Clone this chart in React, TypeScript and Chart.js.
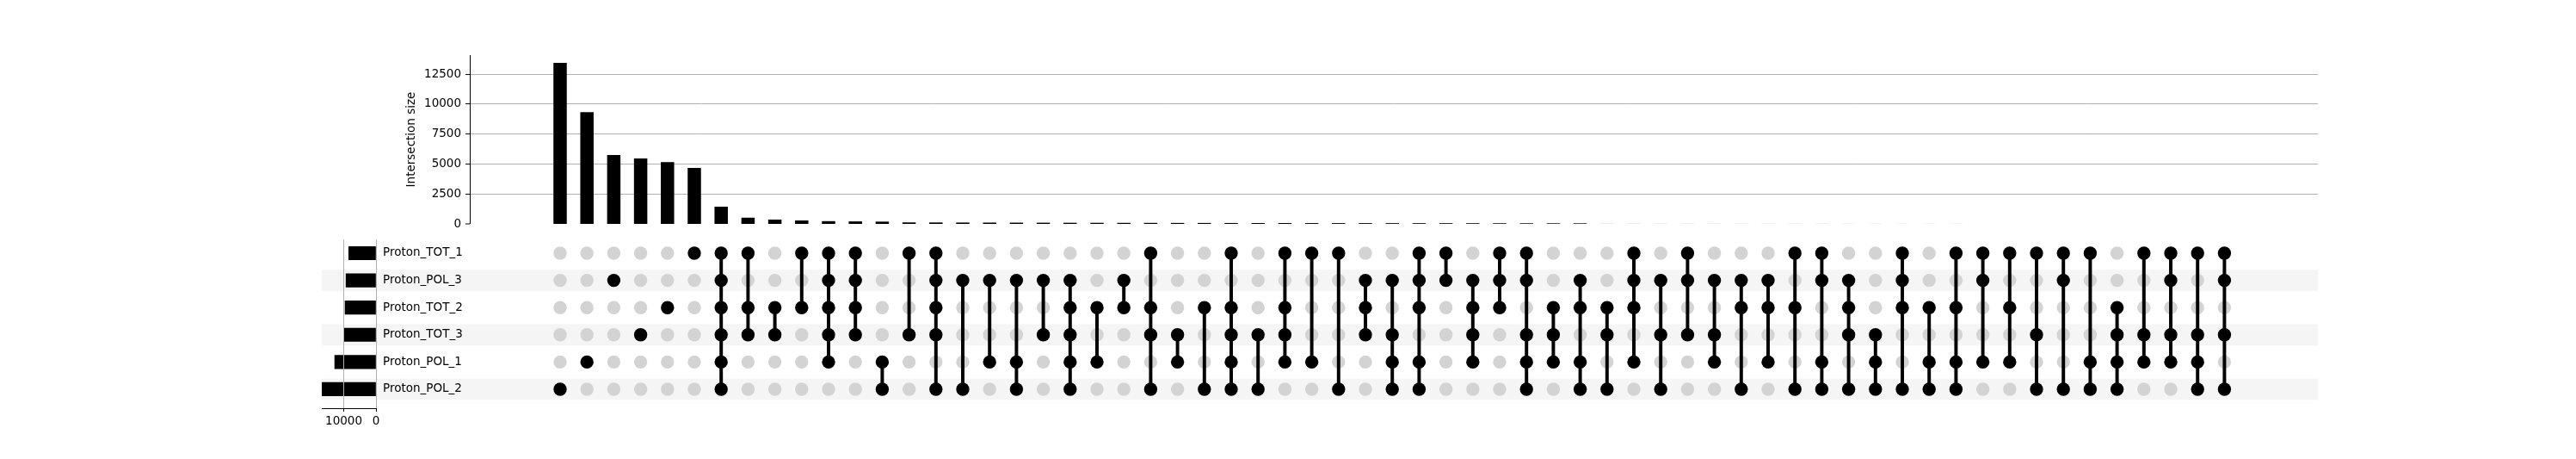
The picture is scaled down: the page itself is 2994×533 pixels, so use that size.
import React, { useEffect, useRef } from 'react';
import { Chart, registerables } from 'chart.js';

Chart.register(...registerables);

// ---------------- data ----------------
const setNames = ['Proton_TOT_1', 'Proton_POL_3', 'Proton_TOT_2', 'Proton_TOT_3', 'Proton_POL_1', 'Proton_POL_2'];
const setTotals = [8460, 9300, 9600, 9810, 12800, 16820];

const intersectionSizes = [
  13450, 9340, 5750, 5460, 5170, 4670, 1440, 520, 360, 290,
  230, 210, 190, 125, 120, 115, 110, 105, 100, 96,
  92, 88, 85, 82, 79, 76, 73, 70, 68, 66,
  64, 62, 60, 58, 56, 54, 52, 50, 48, 6,
  6, 5, 5, 5, 4, 4, 4, 4, 3, 3,
  3, 3, 3, 2, 2, 2, 2, 2, 1, 1,
  1, 1, 1,
];

// set indices: 0 TOT_1, 1 POL_3, 2 TOT_2, 3 TOT_3, 4 POL_1, 5 POL_2
const memberships: number[][] = [
  [5], [4], [1], [3], [2], [0], [0, 1, 2, 3, 4, 5], [0, 2, 3], [2, 3], [0, 2],
  [0, 1, 2, 3, 4], [0, 1, 2, 3], [4, 5], [0, 3], [0, 1, 2, 3, 5], [1, 5], [1, 4], [1, 4, 5], [1, 3], [1, 2, 3, 4, 5],
  [2, 4], [1, 2], [0, 2, 3, 5], [3, 4], [2, 5], [0, 2, 3, 4, 5], [3, 5], [0, 2, 3, 4], [0, 4], [0, 5],
  [1, 2, 3], [1, 3, 4, 5], [0, 1, 2, 4, 5], [0, 1], [1, 2, 3, 4], [0, 1, 2], [0, 1, 3, 4, 5], [2, 3, 4], [1, 2, 4, 5], [2, 3, 5],
  [0, 1, 2, 4], [1, 3, 5], [0, 1, 3], [1, 3, 4], [1, 2, 5], [1, 2, 4], [0, 2, 5], [0, 1, 4, 5], [1, 2, 3, 5], [3, 4, 5],
  [0, 1, 2, 5], [2, 4, 5], [0, 2, 4, 5], [0, 1, 4], [0, 2, 4], [0, 3, 5], [0, 1, 5], [0, 4, 5], [2, 3, 4, 5], [0, 3, 4],
  [0, 1, 3, 4], [0, 3, 4, 5], [0, 1, 3, 5],
];

const intersectionTicks = [0, 2500, 5000, 7500, 10000, 12500];
const totalsTicks = [0, 10000];

// ---------------- layout ----------------
const W = 2994;
const COL0_X = 651;
const COL_W = 31.2;
const PLOT_RIGHT = 2694;
const TOP_AXIS_X = 546;
const MATRIX_LEFT = 374;
const TOTALS_RIGHT = 437;

const FONT = "'DejaVu Sans', 'Liberation Sans', sans-serif";
const FS = 13.5;
const GRID = '#b0b0b0';
const DOT_GREY = '#d3d3d3';
const BAND = '#f5f5f5';
const DOT_R = 7.7;

Chart.defaults.font.family = FONT;
Chart.defaults.font.size = FS;
Chart.defaults.color = '#000';

export default function App() {
  const topRef = useRef<HTMLCanvasElement>(null);
  const matRef = useRef<HTMLCanvasElement>(null);
  const totRef = useRef<HTMLCanvasElement>(null);

  useEffect(() => {
    const charts: Chart[] = [];
    const xMaxVal = (PLOT_RIGHT - COL0_X) / COL_W;

    // ---------- top: intersection sizes ----------
    const topYAxisW = 80;
    charts.push(
      new Chart(topRef.current!, {
        type: 'bar',
        data: {
          datasets: [
            {
              data: intersectionSizes.map((v, i) => ({ x: i, y: v })),
              backgroundColor: '#000',
              borderWidth: 0,
              barThickness: 15.5,
              inflateAmount: 0,
            } as any,
          ],
        },
        options: {
          responsive: false,
          animation: false,
          devicePixelRatio: 1,
          layout: {
            autoPadding: false,
            padding: { left: TOP_AXIS_X - topYAxisW, right: W - PLOT_RIGHT, top: 64, bottom: 300 - 260 },
          },
          plugins: { legend: { display: false }, tooltip: { enabled: false } },
          scales: {
            x: {
              type: 'linear',
              offset: false,
              min: (TOP_AXIS_X - COL0_X) / COL_W,
              max: xMaxVal,
              display: false,
            },
            y: {
              type: 'linear',
              min: 0,
              max: 14100,
              afterBuildTicks: (s: any) => {
                s.ticks = intersectionTicks.map((v) => ({ value: v }));
              },
              afterFit: (s: any) => {
                s.width = topYAxisW;
              },
              grid: {
                color: GRID,
                lineWidth: (c: any) => (c.tick && c.tick.value === 0 ? 0 : 1),
                tickColor: '#000',
                tickLength: 5,
                tickWidth: 1,
              },
              border: { display: true, color: '#000', width: 1 },
              ticks: {
                color: '#000',
                font: { size: FS, family: FONT },
                padding: 5,
                callback: (v: any) => String(v),
              },
              title: {
                display: true,
                text: 'Intersection size',
                color: '#000',
                font: { size: FS, family: FONT },
                padding: { top: 4, bottom: 0 },
              },
            },
          },
        } as any,
      })
    );

    // ---------- matrix ----------
    const grey: { x: number; y: number }[] = [];
    const black: { x: number; y: number }[] = [];
    const lines: { x: number; y: [number, number] }[] = [];
    memberships.forEach((m, i) => {
      for (let r = 0; r < setNames.length; r++) {
        if (m.includes(r)) black.push({ x: i, y: r });
        else grey.push({ x: i, y: r });
      }
      if (m.length > 1) lines.push({ x: i, y: [Math.min(...m), Math.max(...m)] });
    });

    const bandPlugin = {
      id: 'bands',
      beforeDatasetsDraw(chart: any) {
        const { ctx, chartArea, scales } = chart;
        ctx.save();
        ctx.fillStyle = BAND;
        const h = Math.abs(scales.y.getPixelForValue(1) - scales.y.getPixelForValue(0)) * 0.785;
        for (let r = 1; r < setNames.length; r += 2) {
          const y = scales.y.getPixelForValue(r);
          ctx.fillRect(chartArea.left, y - h / 2, chartArea.right - chartArea.left, h);
        }
        ctx.restore();
      },
    };

    charts.push(
      new Chart(matRef.current!, {
        type: 'scatter',
        data: {
          datasets: [
            {
              type: 'scatter',
              data: grey,
              pointRadius: DOT_R,
              pointHoverRadius: DOT_R,
              backgroundColor: DOT_GREY,
              borderWidth: 0,
              clip: false,
              order: 3,
            },
            {
              type: 'bar',
              data: lines,
              backgroundColor: '#000',
              borderWidth: 0,
              barThickness: 3.3,
              order: 2,
            },
            {
              type: 'scatter',
              data: black,
              pointRadius: DOT_R,
              pointHoverRadius: DOT_R,
              backgroundColor: '#000',
              borderWidth: 0,
              clip: false,
              order: 1,
            },
          ] as any,
        },
        options: {
          responsive: false,
          animation: false,
          devicePixelRatio: 1,
          layout: {
            autoPadding: false,
            padding: { left: MATRIX_LEFT, right: W - PLOT_RIGHT, top: 8.2, bottom: 12.2 },
          },
          plugins: { legend: { display: false }, tooltip: { enabled: false } },
          scales: {
            x: {
              type: 'linear',
              offset: false,
              min: (MATRIX_LEFT - COL0_X) / COL_W,
              max: xMaxVal,
              display: false,
            },
            y: { type: 'linear', min: -0.5, max: 5.5, reverse: true, display: false },
          },
        } as any,
        plugins: [bandPlugin],
      })
    );

    // ---------- set totals ----------
    const totYAxisW = 163;
    charts.push(
      new Chart(totRef.current!, {
        type: 'bar',
        data: {
          datasets: [
            {
              data: setTotals.map((v, r) => ({ x: v, y: r })),
              backgroundColor: '#000',
              borderWidth: 0,
              barThickness: 15.5,
            } as any,
          ],
        },
        options: {
          indexAxis: 'y',
          responsive: false,
          animation: false,
          devicePixelRatio: 1,
          layout: {
            autoPadding: false,
            padding: { left: MATRIX_LEFT, right: 600 - TOTALS_RIGHT - totYAxisW, top: 28.2, bottom: 19 },
          },
          plugins: { legend: { display: false }, tooltip: { enabled: false } },
          scales: {
            x: {
              type: 'linear',
              position: 'bottom',
              reverse: true,
              offset: false,
              min: 0,
              max: Math.max(...setTotals),
              afterBuildTicks: (s: any) => {
                s.ticks = totalsTicks.map((v) => ({ value: v }));
              },
              afterFit: (s: any) => {
                s.height = 40;
              },
              grid: { color: GRID, tickColor: '#000', tickLength: 4, lineWidth: 1, z: 1 },
              border: { display: true, color: '#000', width: 1, z: 2 },
              ticks: {
                color: '#000',
                font: { size: FS, family: FONT },
                padding: 3,
                maxRotation: 0,
                callback: (v: any) => String(v),
              },
            },
            y: {
              type: 'linear',
              position: 'right',
              reverse: true,
              offset: false,
              min: -0.5,
              max: 5.7,
              afterBuildTicks: (s: any) => {
                s.ticks = setNames.map((_, i) => ({ value: i }));
              },
              afterFit: (s: any) => {
                s.width = totYAxisW;
              },
              grid: { display: false, drawTicks: false },
              border: { display: false },
              ticks: {
                color: '#000',
                font: { size: FS, family: FONT },
                padding: 8,
                callback: (v: any) => setNames[v] ?? '',
              },
            },
          },
        } as any,
      })
    );

    return () => charts.forEach((c) => c.destroy());
  }, []);

  return (
    <div style={{ position: 'absolute', left: 0, top: 0, width: W, height: 533, background: '#fff' }}>
      <canvas ref={topRef} width={W} height={300} style={{ position: 'absolute', left: 0, top: 0 }} />
      <canvas ref={matRef} width={W} height={210} style={{ position: 'absolute', left: 0, top: 270 }} />
      <canvas ref={totRef} width={600} height={283} style={{ position: 'absolute', left: 0, top: 250 }} />
    </div>
  );
}
